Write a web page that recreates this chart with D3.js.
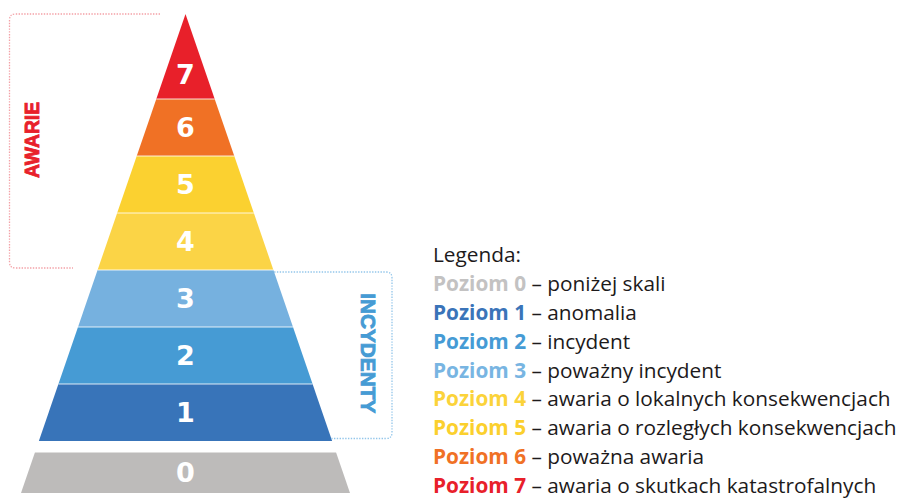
<!DOCTYPE html>
<html>
  <head>
    <meta charset="utf-8">
    <script src="https://cdnjs.cloudflare.com/ajax/libs/d3/7.8.5/d3.min.js"></script>
    <style>
      body {margin:0; background:#fff;}
      .num {font-family:"DejaVu Sans",sans-serif; font-weight:bold; fill:#fff;}
      .legend {font-family:"Open Sans",sans-serif; font-size:20.8px; fill:#1d1a1b;}
    </style>
  </head>
  <body>
    <div id="chart"></div>
    <script>

// D A T A

      let levels = [0, 1, 2, 3, 4, 5, 6, 7]
      let colors = ['#bdbbba', '#3874b9', '#469bd4', '#76b1df', '#fbd446', '#fbd130', '#f07125', '#e8202a']
      let textColors = ['#c3c2c2', '#3a74b9', '#459bd5', '#78b5e2', '#fbd33a', '#fbd02d', '#f07125', '#e8202a']
      let descriptions = [
        'poniżej skali',
        'anomalia',
        'incydent',
        'poważny incydent',
        'awaria o lokalnych konsekwencjach',
        'awaria o rozległych konsekwencjach',
        'poważna awaria',
        'awaria o skutkach katastrofalnych'
      ]
      let groups = [
        {name:'AWARIE', from:4, to:7, color:'#e8202a', line:'#f3a0a6'},
        {name:'INCYDENTY', from:1, to:3, color:'#469bd4', line:'#93c6ea'}
      ]


// L A Y O U T

      let width = 902, height = 499
      let apex = {x:185.5, y:14}
      let base = 493

      let svg = d3.select('#chart').append('svg')
        .attr('width', width)
        .attr('height', height)

      // boundary between bands: level k sits between by(k) and by(k+1)
      let by = d3.scaleLinear().domain([1, 7]).range([441, 99])
      // half width of the pyramid at a given y
      let hw = d3.scaleLinear().domain([apex.y, base]).range([0, 164.5])

      function band(k) {
        if (k == 0) return [452.5, base]
        if (k == 7) return [apex.y, by(7)]
        return [by(k + 1), by(k)]
      }

      function shape(k) {
        let [t, b] = band(k)
        if (k == 7) return `M${apex.x},${t}L${apex.x + hw(b)},${b}L${apex.x - hw(b)},${b}Z`
        return `M${apex.x - hw(t)},${t}L${apex.x + hw(t)},${t}L${apex.x + hw(b)},${b}L${apex.x - hw(b)},${b}Z`
      }


// P Y R A M I D

      let pyramid = svg.append('g')

      pyramid.selectAll('path')
        .data(levels)
        .enter()
          .append('path')
          .attr('d', shape)
          .attr('fill', d => colors[d])

      // thin light seams between bands
      pyramid.selectAll('line')
        .data(levels.filter(d => d > 1))
        .enter()
          .append('line')
          .attr('x1', d => apex.x - hw(by(d)))
          .attr('x2', d => apex.x + hw(by(d)))
          .attr('y1', d => by(d))
          .attr('y2', d => by(d))
          .attr('stroke', '#fff')
          .attr('stroke-opacity', 0.55)
          .attr('stroke-width', 1.3)

      pyramid.selectAll('text')
        .data(levels)
        .enter()
          .append('text')
          .attr('class', 'num')
          .attr('x', apex.x)
          .attr('y', d => {
            let [t, b] = band(d)
            return d == 7 ? b - 25 : (t + b) / 2
          })
          .attr('dy', '0.36em')
          .attr('text-anchor', 'middle')
          .style('font-size', '27px')
          .text(d => d)


// B R A C K E T S

      let dotted = (sel, c) => sel
        .attr('fill', 'none')
        .attr('stroke', c)
        .attr('stroke-width', 1.3)
        .attr('stroke-dasharray', '1.4,1.4')

      let heavy = (sel, c, len) => sel
        .attr('font-family', '"Liberation Sans", Arial, sans-serif')
        .attr('font-weight', 'bold')
        .attr('font-size', 21)
        .attr('text-anchor', 'middle')
        .attr('dy', '0.36em')
        .attr('textLength', len)
        .attr('lengthAdjust', 'spacingAndGlyphs')
        .attr('fill', c)
        .attr('stroke', c)
        .attr('stroke-width', 0.9)

      let r = 6
      let aw = groups[0], inc = groups[1]

      // left bracket for the upper levels
      let aTop = apex.y, aBot = by(aw.from) - 2, aL = 9.5
      svg.append('path')
        .attr('d', `M160,${aTop}H${aL + r}Q${aL},${aTop} ${aL},${aTop + r}V${aBot - r}Q${aL},${aBot} ${aL + r},${aBot}H73`)
        .call(dotted, aw.line)
      svg.append('text')
        .attr('transform', `translate(31,${(aTop + aBot) / 2 - 1}) rotate(-90)`)
        .call(heavy, aw.color, 76)
        .text(aw.name)

      // right bracket for the lower levels
      let iTop = by(inc.to + 1) + 2, iBot = by(inc.from) - 2.5, iR = 392
      svg.append('path')
        .attr('d', `M${apex.x + hw(iTop)},${iTop}H${iR - r}Q${iR},${iTop} ${iR},${iTop + r}V${iBot - r}Q${iR},${iBot} ${iR - r},${iBot}H${apex.x + hw(iBot)}`)
        .call(dotted, inc.line)
      svg.append('text')
        .attr('transform', `translate(368.5,${(iTop + iBot) / 2 - 2}) rotate(90)`)
        .call(heavy, inc.color, 120)
        .text(inc.name)


// L E G E N D

      let ly = d3.scalePoint().domain(['head', ...levels]).range([262, 493])

      let legend = svg.append('g').attr('class', 'legend')

      legend.append('text')
        .attr('x', 433)
        .attr('y', ly('head'))
        .text('Legenda:')

      let rows = legend.selectAll('.row')
        .data(levels)
        .enter()
          .append('text')
          .attr('class', 'row')
          .attr('x', 433)
          .attr('y', d => ly(d))

      rows.append('tspan')
        .attr('font-weight', 'bold')
        .attr('fill', d => textColors[d])
        .text(d => `Poziom ${d}`)

      rows.append('tspan')
        .text(d => ` – ${descriptions[d]}`)

    </script>
  </body>
</html>
